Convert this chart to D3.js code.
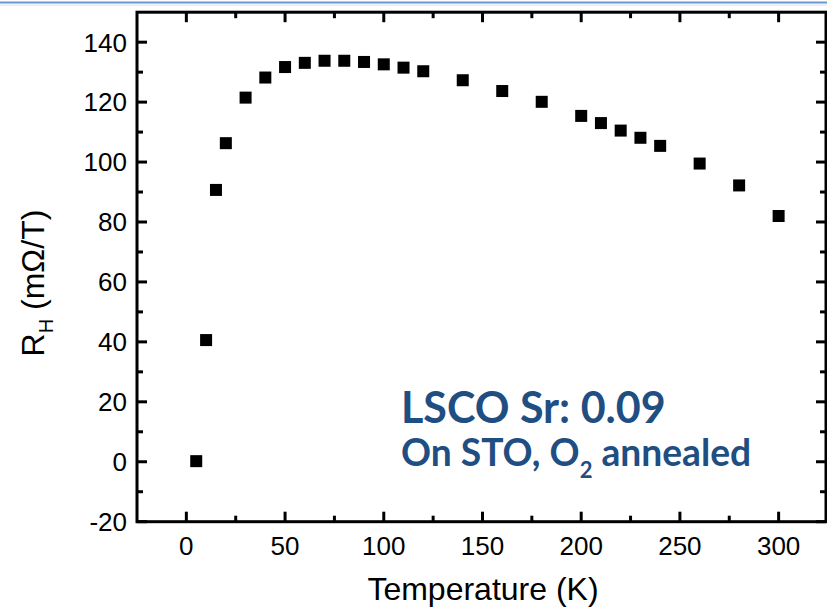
<!DOCTYPE html>
<html>
<head>
<meta charset="utf-8">
<script src="https://cdn.jsdelivr.net/npm/d3@7"></script>
<style>
  html, body { margin: 0; padding: 0; background: #fff; }
  svg { display: block; }
</style>
</head>
<body>
<svg id="chart" width="827" height="614"></svg>
<script>
// Hall coefficient of LSCO (Sr 0.09) film versus temperature
const temperature = [5, 10, 15, 20, 30, 40, 50, 60, 70, 80, 90, 100, 110, 120,
                     140, 160, 180, 200, 210, 220, 230, 240, 260, 280, 300];
const hallCoeff   = [0.2, 40.6, 90.7, 106.3, 121.5, 128.2, 131.7, 133.1, 133.8, 133.8,
                     133.4, 132.6, 131.5, 130.3, 127.3, 123.7, 120.1, 115.4, 113.0,
                     110.5, 108.1, 105.4, 99.5, 92.2, 82.0];

const xMajorTicks = [0, 50, 100, 150, 200, 250, 300];
const xMinorTicks = [25, 75, 125, 175, 225, 275];
const yMajorTicks = [-20, 0, 20, 40, 60, 80, 100, 120, 140];
const yMinorTicks = [-10, 10, 30, 50, 70, 90, 110, 130];

const xTitle = "Temperature (K)";
const noteLine1 = "LSCO Sr: 0.09";

const svg = d3.select("#chart");
const W = 827;

const x = d3.scaleLinear().domain([-25, 324]).range([137, 826]);
const y = d3.scaleLinear().domain([-20, 150]).range([521.7, 12.2]);

const axisFont = "'Liberation Sans', Arial, Helvetica, sans-serif";
const noteFont = "Lato, 'Open Sans', sans-serif";
const noteColor = "#1f4e82";

// thin blue rule across the top of the slide
svg.append("line").attr("x1", 0).attr("x2", W).attr("y1", 2.5).attr("y2", 2.5)
  .attr("stroke", "#6b97cd").attr("stroke-width", 2.2);
svg.append("line").attr("x1", 0).attr("x2", W).attr("y1", 5).attr("y2", 5)
  .attr("stroke", "#d3e0ef").attr("stroke-width", 1);

// frame
const [x0, x1] = x.range();
const [yb, yt] = y.range();
svg.append("rect")
  .attr("x", x0).attr("y", yt).attr("width", x1 - x0).attr("height", yb - yt)
  .attr("fill", "none").attr("stroke", "#000").attr("stroke-width", 3);

const tickW = 3;
const majLen = 10, minLen = 6;

// bottom + top ticks (inward)
function xTicks(vals, len) {
  vals.forEach(v => {
    svg.append("line").attr("x1", x(v)).attr("x2", x(v))
      .attr("y1", yb).attr("y2", yb - len)
      .attr("stroke", "#000").attr("stroke-width", tickW);
    svg.append("line").attr("x1", x(v)).attr("x2", x(v))
      .attr("y1", yt).attr("y2", yt + len)
      .attr("stroke", "#000").attr("stroke-width", tickW);
  });
}
xTicks(xMajorTicks, majLen);
xTicks(xMinorTicks, minLen);

// left + right ticks (inward)
function yTicks(vals, len) {
  vals.forEach(v => {
    svg.append("line").attr("x1", x0).attr("x2", x0 + len)
      .attr("y1", y(v)).attr("y2", y(v))
      .attr("stroke", "#000").attr("stroke-width", tickW);
    svg.append("line").attr("x1", x1).attr("x2", x1 - len)
      .attr("y1", y(v)).attr("y2", y(v))
      .attr("stroke", "#000").attr("stroke-width", tickW);
  });
}
yTicks(yMajorTicks, majLen);
yTicks(yMinorTicks, minLen);

// tick labels
svg.append("g").selectAll("text").data(xMajorTicks).join("text")
  .attr("x", d => x(d)).attr("y", 555)
  .attr("text-anchor", "middle")
  .attr("font-family", axisFont).attr("font-size", 26)
  .text(d => d);

svg.append("g").selectAll("text").data(yMajorTicks).join("text")
  .attr("x", 127).attr("y", d => y(d))
  .attr("dy", "0.36em")
  .attr("text-anchor", "end")
  .attr("font-family", axisFont).attr("font-size", 26)
  .text(d => d);

// axis titles
svg.append("text")
  .attr("x", 483).attr("y", 600)
  .attr("text-anchor", "middle")
  .attr("font-family", axisFont).attr("font-size", 32)
  .text(xTitle);

const yTitle = svg.append("text")
  .attr("transform", "translate(43.5,283) rotate(-90)")
  .attr("text-anchor", "middle")
  .attr("font-family", axisFont).attr("font-size", 32);
yTitle.append("tspan").text("R");
yTitle.append("tspan").attr("font-size", 20).attr("dy", 9).text("H");
yTitle.append("tspan").attr("dy", -9).text(" (m\u03A9/T)");

// data markers
svg.append("g").selectAll("rect").data(temperature.map((t, i) => [t, hallCoeff[i]]))
  .join("rect")
  .attr("x", d => x(d[0]) - 6).attr("y", d => y(d[1]) - 6)
  .attr("width", 12).attr("height", 12)
  .attr("fill", "#000");

// annotation
svg.append("text")
  .attr("x", 401).attr("y", 423)
  .attr("font-family", noteFont).attr("font-weight", 700).attr("font-size", 43)
  .attr("fill", noteColor)
  .text(noteLine1);

const note2 = svg.append("text")
  .attr("x", 401).attr("y", 466)
  .attr("font-family", noteFont).attr("font-weight", 700).attr("font-size", 37.2)
  .attr("fill", noteColor);
note2.append("tspan").text("On STO, O");
note2.append("tspan").attr("font-size", 22).attr("dy", 12).text("2");
note2.append("tspan").attr("dy", -12).text(" annealed");
</script>
</body>
</html>
